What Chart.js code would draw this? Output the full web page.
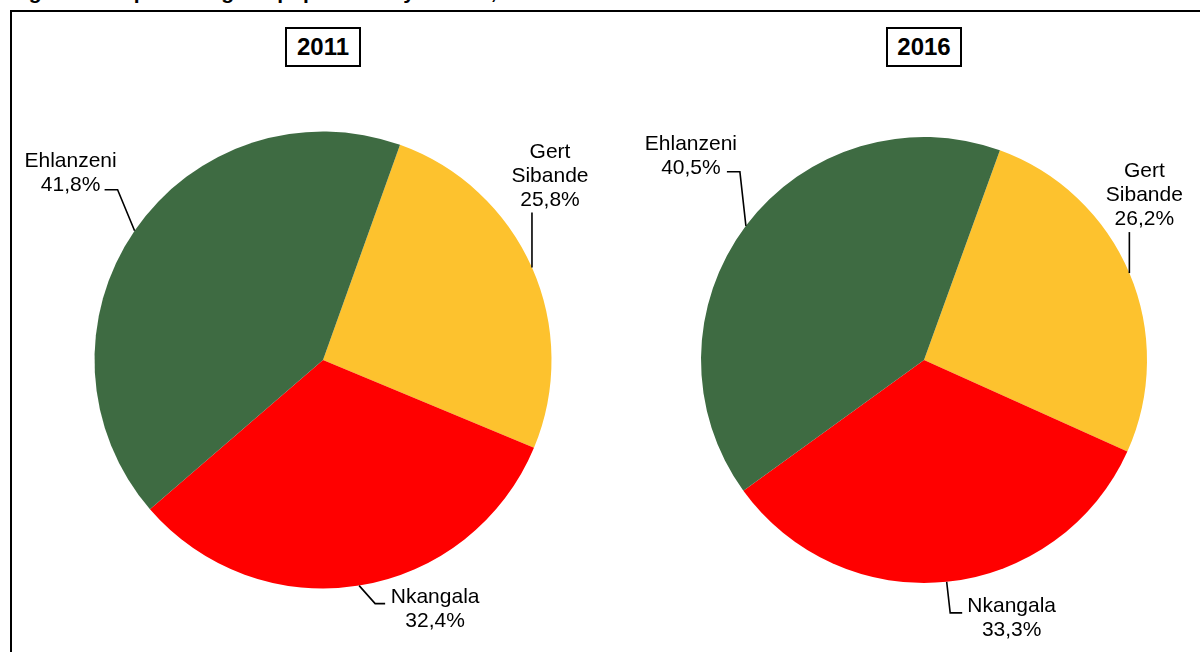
<!DOCTYPE html>
<html><head><meta charset="utf-8">
<script src="https://cdn.jsdelivr.net/npm/chart.js@4.4.1/dist/chart.umd.min.js"></script>
<style>
html,body{margin:0;padding:0;background:#fff;width:1200px;height:652px;overflow:hidden;position:relative;font-family:"Liberation Sans",Arial,sans-serif;}
#frame{position:absolute;left:10px;top:10px;width:1400px;height:900px;border:2px solid #000;box-sizing:border-box;}
#title{position:absolute;left:10px;top:-19px;font-weight:bold;font-size:21px;line-height:21px;white-space:nowrap;color:#000;}
.year{position:absolute;top:27px;height:40px;border:2px solid #000;box-sizing:border-box;font-weight:bold;font-size:24px;line-height:36px;text-align:center;background:#fff;color:#000;z-index:2;}
canvas{position:absolute;top:0;}
</style></head>
<body>
<div id="frame"></div>
<div id="title">Figure 2.12: percentage of population by district, 2011 and 2016</div>
<canvas id="c2011" width="600" height="652" style="left:0px"></canvas>
<canvas id="c2016" width="600" height="652" style="left:600px"></canvas>
<script>
const districts = ['Gert Sibande', 'Nkangala', 'Ehlanzeni'];
const labelLines = [['Gert', 'Sibande'], ['Nkangala'], ['Ehlanzeni']];
const years = ['2011', '2016'];
const share2011 = [25.8, 32.4, 41.8];
const share2016 = [26.2, 33.3, 40.5];
const sliceColors = ['#FDC22E', '#FF0000', '#3E6B42'];

function fmt(v){ return v.toFixed(1).replace('.', ',') + '%'; }

const leaderPlugin = {
  id: 'leader',
  afterDatasetsDraw(chart, args, opts) {
    const ctx = chart.ctx;
    const meta = chart.getDatasetMeta(0);
    const values = chart.data.datasets[0].data;
    ctx.save();
    ctx.strokeStyle = '#000';
    ctx.lineWidth = 1.6;
    ctx.fillStyle = '#000';
    ctx.font = opts.font;
    ctx.textAlign = 'center';
    ctx.textBaseline = 'middle';
    meta.data.forEach((arc, i) => {
      const p = arc.getProps(['x','y','startAngle','endAngle','outerRadius'], true);
      const mid = (p.startAngle + p.endAngle) / 2;
      const ex = p.x + Math.cos(mid) * p.outerRadius;
      const ey = p.y + Math.sin(mid) * p.outerRadius;
      const it = opts.items[i];
      ctx.beginPath();
      ctx.moveTo(ex, ey);
      it.pts.forEach(q => ctx.lineTo(ex + q[0], ey + q[1]));
      ctx.stroke();
      const lines = labelLines[i].concat([fmt(values[i])]);
      const cx = ex + it.tx;
      const cy = ey + it.ty;
      const top = cy - (lines.length - 1) * opts.lineHeight / 2;
      lines.forEach((t, k) => ctx.fillText(t, cx, top + k * opts.lineHeight));
    });
    ctx.restore();
  }
};

function makePie(id, values, rotation, padding, items) {
  return new Chart(document.getElementById(id), {
    type: 'pie',
    data: {
      labels: districts,
      datasets: [{ data: values, backgroundColor: sliceColors, borderWidth: 0, hoverOffset: 0 }]
    },
    options: {
      responsive: false,
      animation: false,
      devicePixelRatio: 1,
      rotation: rotation,
      layout: { padding: padding },
      plugins: {
        legend: { display: false },
        tooltip: { enabled: false },
        leader: { font: '21px "Liberation Sans", Arial, sans-serif', lineHeight: 24, items: items }
      },
      events: []
    },
    plugins: [leaderPlugin]
  });
}

makePie('c2011', share2011, 19.7,
  { left: 94.5, right: 48.5, top: 131.5, bottom: 63.5 },
  [
    { pts: [[0, -55]], tx: 18, ty: -91.5 },
    { pts: [[16, 18], [26, 18]], tx: 76, ty: 24 },
    { pts: [[-17, -41], [-30, -41]], tx: -64, ty: -58 }
  ]);

makePie('c2016', share2016, 19.9,
  { left: 101, right: 53, top: 137, bottom: 69 },
  [
    { pts: [[0, -41]], tx: 15, ty: -78 },
    { pts: [[3.5, 31], [15.5, 31]], tx: 65, ty: 36.5 },
    { pts: [[-6, -54], [-19, -54]], tx: -55, ty: -70 }
  ]);

// year boxes
const boxPos = [{ left: 285, width: 76 }, { left: 886, width: 76 }];
years.forEach((y, i) => {
  const d = document.createElement('div');
  d.className = 'year';
  d.style.left = boxPos[i].left + 'px';
  d.style.width = boxPos[i].width + 'px';
  d.textContent = y;
  document.body.appendChild(d);
});
</script>
</body></html>
